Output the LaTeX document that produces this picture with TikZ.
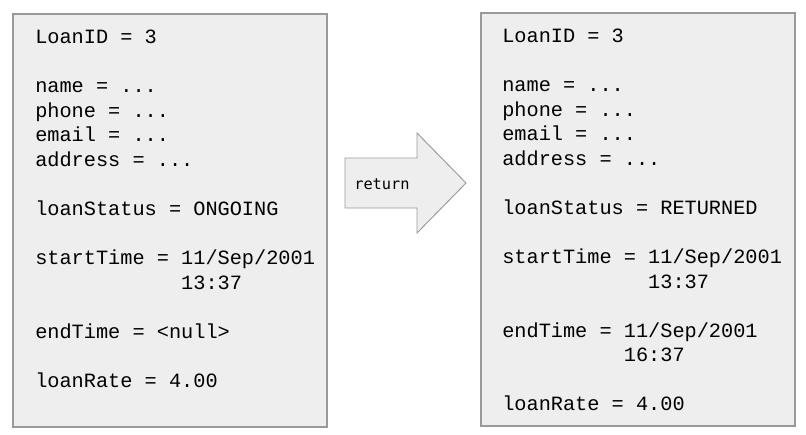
\documentclass[tikz,border=0pt]{standalone}
\usepackage{fontspec}
\setmonofont{Liberation Mono}
\newfontfamily\dvmono{DejaVu Sans Mono}
\definecolor{boxfill}{HTML}{EEEEEE}
\definecolor{boxline}{HTML}{999999}
\begin{document}
\begin{tikzpicture}[x=0.75pt,y=-0.75pt,
  recbox/.style={draw=boxline,fill=boxfill,line width=0.9pt},
  rectext/.style={anchor=north west,inner sep=0pt,align=left,
    font=\ttfamily\fontsize{15.2pt}{18.4pt}\selectfont}]
\useasboundingbox (0,0) rectangle (806,435);
\draw[recbox] (13,14) rectangle (327,427);
\draw[recbox] (481,13) rectangle (795,426);
\node[rectext] (lt) at (35,30) {LoanID = 3\\[0pt]
\mbox{}\\
name = ...\\
phone = ...\\
email = ...\\
address = ...\\
\mbox{}\\
loanStatus = ONGOING\\
\mbox{}\\
startTime = 11/Sep/2001\\
\hphantom{startTime = }13:37\\
\mbox{}\\
endTime = <null>\\
\mbox{}\\
loanRate = 4.00};
\node[rectext] (rt) at (502,29) {LoanID = 3\\
\mbox{}\\
name = ...\\
phone = ...\\
email = ...\\
address = ...\\
\mbox{}\\
loanStatus = RETURNED\\
\mbox{}\\
startTime = 11/Sep/2001\\
\hphantom{startTime = }13:37\\
\mbox{}\\
endTime = 11/Sep/2001\\
\hphantom{endTime = }16:37\\
\mbox{}\\
loanRate = 4.00};
\draw[recbox,line width=0.7pt] (345,158) -- (417,158) -- (417,133) -- (466,183)
  -- (417,233) -- (417,208) -- (345,208) -- cycle;
\node[anchor=west,inner sep=0pt,font=\dvmono\fontsize{11.5pt}{13pt}\selectfont] (ret) at (354,184) {return};
\end{tikzpicture}
\end{document}
